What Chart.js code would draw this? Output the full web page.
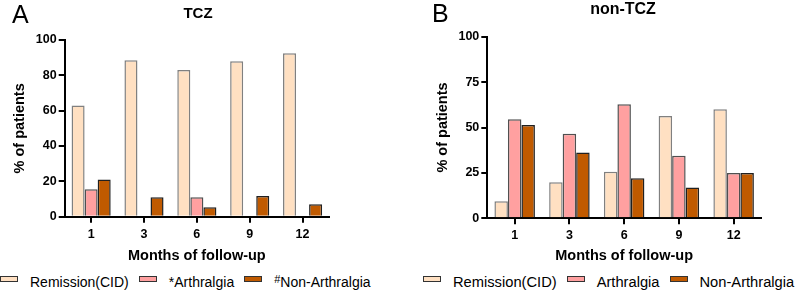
<!DOCTYPE html>
<html>
<head>
<meta charset="utf-8">
<script src="https://cdn.jsdelivr.net/npm/chart.js@4.4.0/dist/chart.umd.min.js"></script>
<style>
  body { margin: 0; background: #fff; font-family: "Liberation Sans", Arial, sans-serif; }
  #wrap { position: relative; width: 795px; height: 291px; overflow: hidden; }
  canvas { position: absolute; top: 0; }
  .lbl { position: absolute; line-height: 1; color: #000; white-space: nowrap; }
  .letter { font-size: 25px; }
  .ttl { font-weight: bold; transform: translateX(-50%); }
  .legend { position: absolute; display: flex; align-items: center; line-height: 1; color: #000; white-space: nowrap; }
  .box { width: 18px; height: 6px; border: 1px solid #333; box-sizing: border-box; transform: translateY(-3px); }
  .legend sup { font-size: 11px; vertical-align: 0; position: relative; top: -4px; }
</style>
</head>
<body>
<div id="wrap">
  <canvas id="tczChart" width="400" height="265" style="left:0"></canvas>
  <canvas id="nonTczChart" width="395" height="265" style="left:400px"></canvas>

  <div class="lbl letter" style="left:12px; top:2px">A</div>
  <div class="lbl ttl" style="left:198px; top:5px; font-size:15px">TCZ</div>
  <div class="lbl letter" style="left:432px; top:1px">B</div>
  <div class="lbl ttl" style="left:623px; top:1px; font-size:16px">non-TCZ</div>

  <div class="legend" id="legendA" style="left:0; top:275px; font-size:14px"></div>
  <div class="legend" id="legendB" style="left:423px; top:275px; font-size:14.7px"></div>
</div>
<script>
const months = ['1', '3', '6', '9', '12'];

// TCZ group (% of patients)
const tczRemission = [63, 88.5, 83, 88, 92.5];
const tczArthralgia = [15.5, 0, 11, 0, 0];
const tczNonArthralgia = [21, 11, 5.3, 11.7, 7];

// non-TCZ group
const nonTczRemission = [9.4, 19.8, 25.7, 56.3, 60];
const nonTczArthralgia = [54.5, 46.6, 62.8, 34.5, 25];
const nonTczNonArthralgia = [51.4, 36.3, 22, 17, 25];

const tczLegend = ['Remission(CID)', '*Arthralgia', '<sup>#</sup>Non-Arthralgia'];
const nonTczLegend = ['Remission(CID)', 'Arthralgia', 'Non-Arthralgia'];

const fills = ['#FFE0C2', '#FFA0A0', '#C05A00'];
const borders = ['#808080', '#505050', '#202020'];

function drawChart(canvasId, series, step, opts) {
  const ctx = document.getElementById(canvasId).getContext('2d');
  new Chart(ctx, {
    type: 'bar',
    data: {
      labels: months,
      datasets: series.map((d, i) => ({
        label: 'set' + i,
        data: d,
        backgroundColor: fills[i],
        borderColor: borders[i],
        borderWidth: 1.5,
        categoryPercentage: 0.74,
        barPercentage: 1,
      }))
    },
    options: {
      responsive: false,
      animation: false,
      devicePixelRatio: 1,
      layout: { padding: { top: opts.top, right: opts.right, left: 0, bottom: 0 } },
      plugins: { legend: { display: false }, tooltip: { enabled: false } },
      scales: {
        x: {
          offset: true,
          grid: { offset: false, drawOnChartArea: false, drawTicks: true, tickLength: 6, color: '#000', lineWidth: 2 },
          border: { color: '#000', width: 2 },
          ticks: { color: '#000', padding: 4, font: { family: 'Liberation Sans', size: 12.5, weight: 'bold' } },
          title: {
            display: true, text: 'Months of follow-up', color: '#000',
            padding: { top: 0, bottom: 0 },
            font: { family: 'Liberation Sans', size: 14.5, weight: 'bold' }
          },
          afterFit: (scale) => { scale.height = opts.xHeight; }
        },
        y: {
          min: 0, max: 100,
          grid: { drawOnChartArea: false, drawTicks: true, tickLength: 6, color: '#000', lineWidth: 2 },
          border: { color: '#000', width: 2 },
          ticks: { stepSize: step, color: '#000', padding: 2, font: { family: 'Liberation Sans', size: 12.5, weight: 'bold' } },
          title: {
            display: true, text: '% of patients', color: '#000',
            padding: { top: opts.titlePad, bottom: 0 },
            font: { family: 'Liberation Sans', size: 14.5, weight: 'bold' }
          },
          afterFit: (scale) => { scale.width = opts.yWidth; }
        }
      }
    }
  });
}

function buildLegend(id, labels) {
  const el = document.getElementById(id);
  labels.forEach((t, i) => {
    const box = document.createElement('span');
    box.className = 'box';
    box.style.background = fills[i];
    box.style.marginLeft = i === 0 ? '0' : '10px';
    const txt = document.createElement('span');
    txt.innerHTML = t;
    txt.style.marginLeft = '12px';
    el.appendChild(box);
    el.appendChild(txt);
  });
}

drawChart('tczChart', [tczRemission, tczArthralgia, tczNonArthralgia], 20,
  { top: 40, right: 71, xHeight: 48.3, yWidth: 64.7, titlePad: 11 });
drawChart('nonTczChart', [nonTczRemission, nonTczArthralgia, nonTczNonArthralgia], 25,
  { top: 36.7, right: 34, xHeight: 46.7, yWidth: 87.3, titlePad: 34 });

buildLegend('legendA', tczLegend);
buildLegend('legendB', nonTczLegend);
</script>
</body>
</html>
